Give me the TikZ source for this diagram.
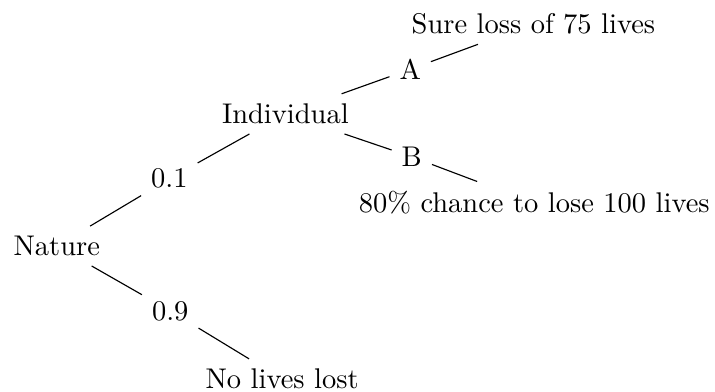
\documentclass[tikz,border=0pt]{standalone}
\usepackage{amsmath,amssymb}
\usepackage{tikz}

\begin{document}
\begin{tikzpicture}[branch/.style={draw=none, inner sep=0.3333em}]
    \useasboundingbox (0, 0) rectangle (8.82, 4.825);

    % Chance move
    \node[branch] (nat) at (0.70, 1.79) {Nature};
    \node[branch] (p1) at (2.09, 2.62) {0.1};
    \node[branch] (p9) at (2.10, 0.99) {0.9};
    \node[branch] (none) at (3.48, 0.15) {No lives lost};

    % Choice
    \node[branch] (ind) at (3.52, 3.42) {Individual};
    \node[branch] (ca) at (5.06, 3.97) {A};
    \node[branch] (cb) at (5.08, 2.89) {B};

    % Outcomes
    \node[branch] (sure) at (6.58, 4.53) {Sure loss of 75 lives};
    \node[branch] (risk) at (6.59, 2.32) {80\% chance to lose 100 lives};

    % Edges
    \foreach \src/\dst in {nat/p1, p1/ind, nat/p9, p9/none, ind/ca, ca/sure, ind/cb, cb/risk} {
        \draw (\src) -- (\dst);
    }
\end{tikzpicture}
\end{document}
